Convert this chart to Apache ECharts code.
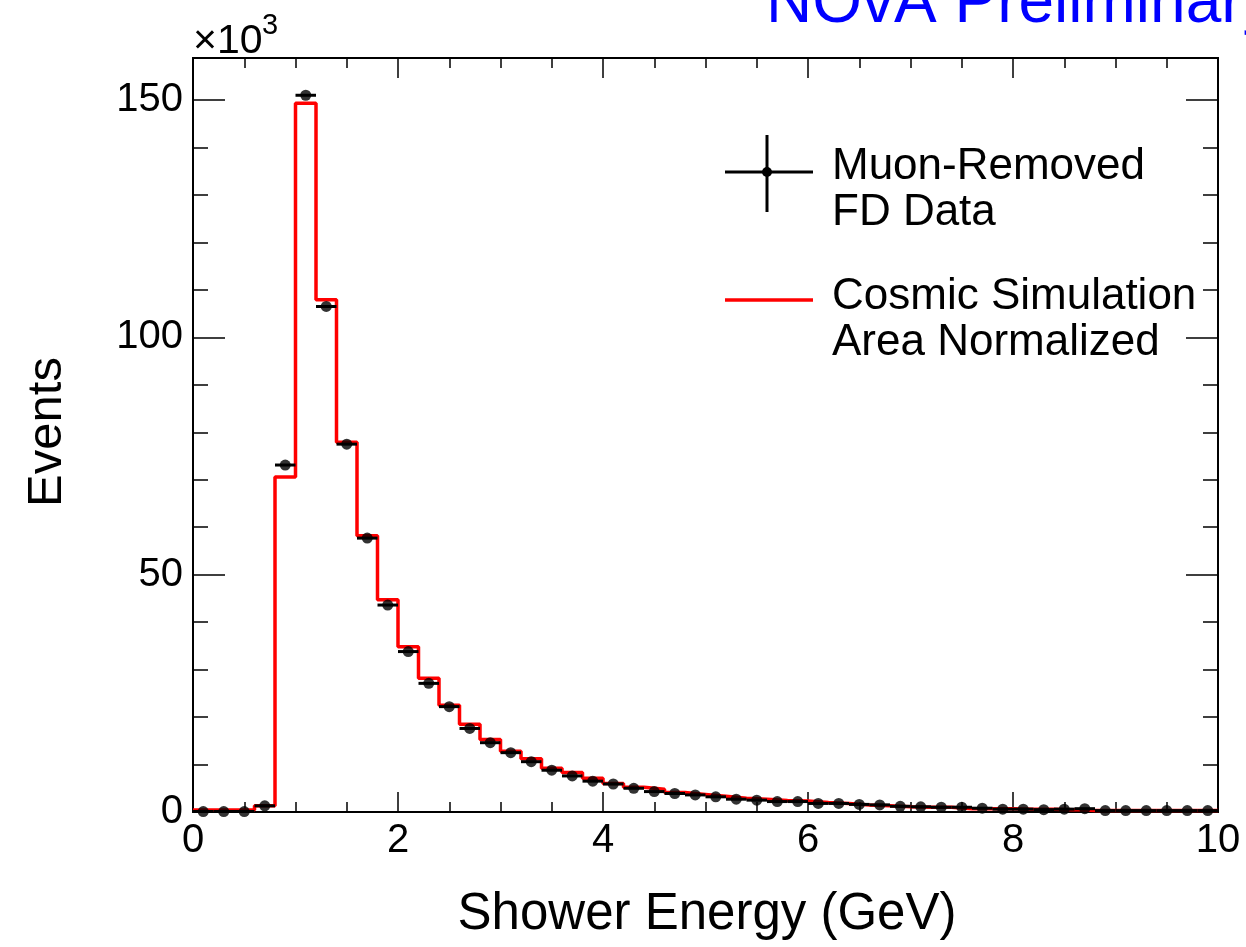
<!DOCTYPE html>
<html><head><meta charset="utf-8">
<script src="https://cdn.jsdelivr.net/npm/echarts@6/dist/echarts.min.js"></script>
<style>html,body{margin:0;padding:0;background:#fff}#c{width:1246px;height:947px}</style>
</head><body><div id="c"></div>
<script>
// ---- data (events in units of 10^3) ----
const binWidth = 0.2;
const binLowEdges = [0.0,0.2,0.4,0.6,0.8,1.0,1.2,1.4,1.6,1.8,2.0,2.2,2.4,2.6,2.8,3.0,3.2,3.4,3.6,3.8,4.0,4.2,4.4,4.6,4.8,5.0,5.2,5.4,5.6,5.8,6.0,6.2,6.4,6.6,6.8,7.0,7.2,7.4,7.6,7.8,8.0,8.2,8.4,8.6,8.8,9.0,9.2,9.4,9.6,9.8];
const dataEvents = [0.1,0.1,0.1,1.3,73.1,151.0,106.5,77.5,57.7,43.6,33.8,27.1,22.2,17.6,14.6,12.5,10.6,8.8,7.6,6.5,5.9,5.0,4.3,3.9,3.6,3.2,2.7,2.5,2.2,2.2,1.8,1.8,1.6,1.5,1.2,1.1,1.0,1.0,0.8,0.6,0.6,0.5,0.6,0.7,0.3,0.3,0.3,0.3,0.3,0.3];
const simEvents  = [0.4,0.4,0.4,1.3,70.6,149.3,107.9,77.9,58.2,44.7,34.8,28.2,22.5,18.5,15.3,12.8,11.2,9.2,8.3,7.1,6.0,5.2,4.8,4.1,3.7,3.3,2.9,2.7,2.4,2.3,2.0,1.8,1.5,1.3,1.1,1.0,1.0,0.7,0.7,0.7,0.6,0.6,0.5,0.3,0.3,0.3,0.3,0.3,0.3,0.3];
const xMin = 0, xMax = 10, xMajor = 2;
const yMin = 0, yMax = 158.85, yMajor = 50, yMinor = 10;
const yTickLabels = [0, 50, 100, 150];
const title = 'NOvA Preliminary';
const xTitle = 'Shower Energy (GeV)';
const yTitle = 'Events';
const legendData = ['Muon-Removed', 'FD Data'];
const legendSim = ['Cosmic Simulation', 'Area Normalized'];

const FONT = '"Liberation Sans", Arial, Helvetica, sans-serif';
const chart = echarts.init(document.getElementById('c'), null, {renderer: 'canvas'});

const gridRect = {left: 193, right: 28, top: 58, bottom: 135};
const black = '#000';

function xAx(grid, pos, showLabel) {
  return {
    type: 'value', gridIndex: grid, position: pos, min: xMin, max: xMax, interval: xMajor,
    show: grid === 0,
    axisLine: {show: true, onZero: false, lineStyle: {color: black, width: 2}},
    axisTick: {show: true, inside: true, length: 20, lineStyle: {color: black, width: 1.5}},
    minorTick: {show: true, splitNumber: 4, length: 10, lineStyle: {color: black, width: 1.5}},
    axisLabel: {show: showLabel, fontSize: 40, fontFamily: FONT, color: black, margin: 9, lineHeight: 40},
    splitLine: {show: false}, minorSplitLine: {show: false}
  };
}
function yAx(grid, pos, interval, len, showLabel) {
  return {
    type: 'value', gridIndex: grid, position: pos, min: yMin, max: yMax, interval: interval,
    axisLine: {show: true, onZero: false, lineStyle: {color: black, width: 2}},
    axisTick: {show: true, inside: true, length: len, lineStyle: {color: black, width: 1.5}},
    axisLabel: {show: showLabel, fontSize: 40, fontFamily: FONT, color: black, margin: 10,
      showMaxLabel: false,
      formatter: v => (yTickLabels.indexOf(Math.round(v)) >= 0 && Math.abs(v - Math.round(v)) < 1e-6) ? String(Math.round(v)) : ''},
    splitLine: {show: false}
  };
}

const simStep = binLowEdges.map((x, i) => [x, simEvents[i]]).concat([[xMax, simEvents[simEvents.length - 1]]]);
const dataPts = binLowEdges.map((x, i) => [x + binWidth / 2, dataEvents[i]]);

const option = {
  backgroundColor: '#fff',
  animation: false,
  grid: [Object.assign({}, gridRect), Object.assign({}, gridRect)],
  xAxis: [xAx(0, 'bottom', true), xAx(0, 'top', false), xAx(1, 'bottom', false)],
  yAxis: [
    yAx(0, 'left', yMajor, 32, true), yAx(0, 'right', yMajor, 32, false),
    yAx(1, 'left', yMinor, 15, false), yAx(1, 'right', yMinor, 15, false)
  ],
  series: [
    {
      name: 'Cosmic Simulation', type: 'line', xAxisIndex: 0, yAxisIndex: 0,
      step: 'end', data: simStep, symbol: 'none', clip: false,
      lineStyle: {color: '#ff0000', width: 3.5}, z: 2
    },
    {
      name: 'err', type: 'custom', xAxisIndex: 0, yAxisIndex: 0, data: dataPts, z: 3,
      renderItem: function (params, api) {
        const x = api.value(0), y = api.value(1);
        const p1 = api.coord([x - binWidth / 2, y]);
        const p2 = api.coord([x + binWidth / 2, y]);
        return {type: 'line', shape: {x1: p1[0], y1: p1[1], x2: p2[0], y2: p2[1]},
          style: {stroke: black, lineWidth: 3}};
      }
    },
    {
      name: 'Muon-Removed FD Data', type: 'scatter', xAxisIndex: 0, yAxisIndex: 0,
      data: dataPts, symbol: 'circle', symbolSize: 11, clip: false,
      itemStyle: {color: black}, z: 4
    }
  ],
  graphic: [
    {type: 'text', left: 766, top: -28, style: {text: title, font: '64px ' + FONT, fill: '#0000ff'}},
    {type: 'text', x: 193, y: 21, style: {text: '\u00d710', font: '41px ' + FONT, fill: black, verticalAlign: 'top'}},
    {type: 'text', x: 262, y: 11, style: {text: '3', font: '29px ' + FONT, fill: black, verticalAlign: 'top'}},
    {type: 'text', x: 707, y: 915, style: {text: xTitle, font: '51px ' + FONT, fill: black, align: 'center', verticalAlign: 'middle'}},
    {type: 'text', x: 47, y: 432, rotation: Math.PI / 2, style: {text: yTitle, font: '49px ' + FONT, fill: black, align: 'center', verticalAlign: 'middle'}},
    // legend
    {type: 'line', shape: {x1: 725, y1: 172, x2: 813, y2: 172}, style: {stroke: black, lineWidth: 3}},
    {type: 'line', shape: {x1: 767, y1: 135, x2: 767, y2: 212}, style: {stroke: black, lineWidth: 3}},
    {type: 'circle', shape: {cx: 767, cy: 172, r: 5}, style: {fill: black}},
    {type: 'text', x: 832, y: 167, style: {text: legendData[0], font: '44px ' + FONT, fill: black, verticalAlign: 'middle'}},
    {type: 'text', x: 832, y: 213, style: {text: legendData[1], font: '44px ' + FONT, fill: black, verticalAlign: 'middle'}},
    {type: 'line', shape: {x1: 725, y1: 300, x2: 813, y2: 300}, style: {stroke: '#ff0000', lineWidth: 3.5}},
    {type: 'text', x: 832, y: 297, style: {text: legendSim[0], font: '44px ' + FONT, fill: black, verticalAlign: 'middle'}},
    {type: 'text', x: 832, y: 343, style: {text: legendSim[1], font: '44px ' + FONT, fill: black, verticalAlign: 'middle'}}
  ]
};
chart.setOption(option);
</script>
</body></html>
